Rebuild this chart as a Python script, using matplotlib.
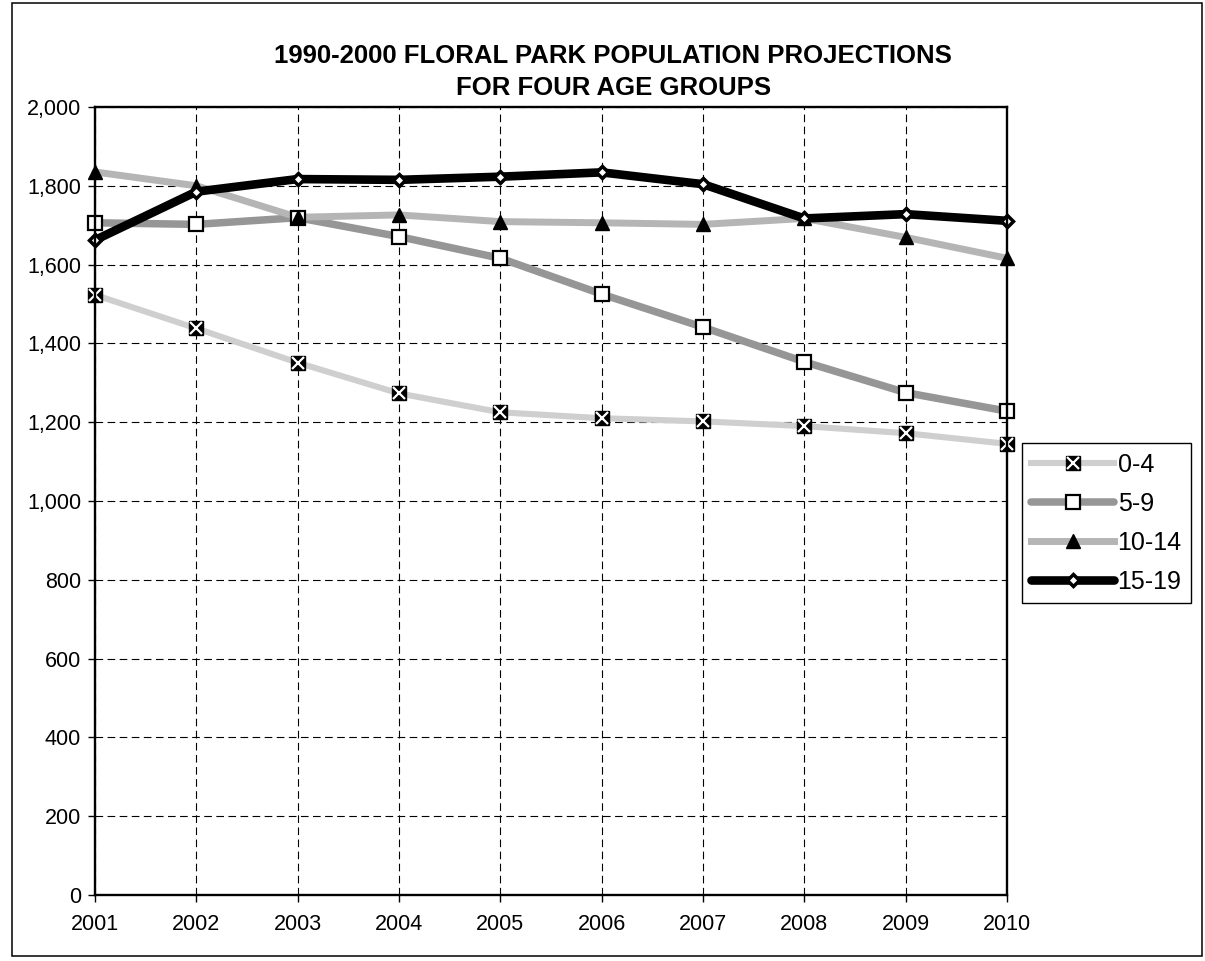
import matplotlib
matplotlib.use('Agg')
import matplotlib.pyplot as plt
from matplotlib.lines import Line2D
from matplotlib.patches import Rectangle
from matplotlib.ticker import FuncFormatter

plt.rcParams['font.family'] = ['Liberation Sans', 'DejaVu Sans']
plt.rcParams['lines.scale_dashes'] = False

years = [2001, 2002, 2003, 2004, 2005, 2006, 2007, 2008, 2009, 2010]
age_0_4 = [1523, 1438, 1351, 1273, 1225, 1210, 1202, 1190, 1172, 1145]
age_5_9 = [1706, 1702, 1719, 1671, 1616, 1525, 1441, 1353, 1275, 1228]
age_10_14 = [1835, 1800, 1720, 1726, 1709, 1706, 1702, 1717, 1669, 1616]
age_15_19 = [1662, 1785, 1817, 1815, 1823, 1834, 1804, 1717, 1728, 1711]
labels = ['0-4', '5-9', '10-14', '15-19']

fig = plt.figure(figsize=(12.05, 9.61), dpi=100)
ax = fig.add_axes([0.0788, 0.0687, 0.7569, 0.82])

# line styles: (color, width)
styles = [('#cfcfcf', 4.4), ('#969696', 5.4), ('#b5b5b5', 5.0), ('black', 6.2)]
series = [age_0_4, age_5_9, age_10_14, age_15_19]

# all lines first, markers on top
for vals, (c, lw) in zip(series, styles):
    ax.plot(years, vals, color=c, lw=lw, solid_capstyle='round',
            solid_joinstyle='round', zorder=3, clip_on=False)

ax.plot(years, age_0_4, ls='none', marker='s', ms=10, mfc='black', mec='black',
        zorder=4, clip_on=False)
ax.plot(years, age_0_4, ls='none', marker='x', ms=9, mec='white', mew=1.6,
        zorder=4.1, clip_on=False)
ax.plot(years, age_5_9, ls='none', marker='s', ms=9.5, mfc='white', mec='black',
        mew=1.6, zorder=5, clip_on=False)
ax.plot(years, age_10_14, ls='none', marker='^', ms=10.5, mfc='black', mec='black',
        zorder=6, clip_on=False)
ax.plot(years, age_15_19, ls='none', marker='D', ms=6.5, mfc='white', mec='black',
        mew=2.5, zorder=7, clip_on=False)

ax.set_xlim(2001, 2010)
ax.set_ylim(0, 2000)
ax.set_xticks(years)
ax.set_yticks(range(0, 2001, 200))
ax.yaxis.set_major_formatter(FuncFormatter(lambda v, p: f'{v:,.0f}'))
ax.grid(True, color='black', lw=0.8, ls=(0, (5.5, 3.2)), zorder=1)
for s in ax.spines.values():
    s.set_linewidth(1.7)
    s.set_zorder(8)
ax.tick_params(direction='out', length=5, width=1, labelsize=15.5)
ax.tick_params(axis='x', pad=9)
ax.tick_params(axis='y', pad=5)

# legend built from proxy handles
h0 = (Line2D([], [], color=styles[0][0], lw=styles[0][1], marker='s', ms=10,
             mfc='black', mec='black'),
      Line2D([], [], ls='none', marker='x', ms=9, mec='white', mew=1.6))
h1 = Line2D([], [], color=styles[1][0], lw=styles[1][1], solid_capstyle='round',
            marker='s', ms=9.5, mfc='white', mec='black', mew=1.6)
h2 = Line2D([], [], color=styles[2][0], lw=styles[2][1], marker='^', ms=10.5,
            mfc='black', mec='black')
h3 = Line2D([], [], color=styles[3][0], lw=styles[3][1], solid_capstyle='round',
            marker='D', ms=6.5, mfc='white', mec='black', mew=2.5)
leg = fig.legend([h0, h1, h2, h3], labels, loc='upper left',
                 bbox_to_anchor=(0.848, 0.539), fontsize=18, handlelength=3.3,
                 handletextpad=0.15, labelspacing=0.6, borderpad=0.38,
                 borderaxespad=0, fancybox=False, framealpha=1,
                 edgecolor='black', numpoints=1)
leg.get_frame().set_linewidth(1.0)

fig.text(0.509, 0.925, '1990-2000 FLORAL PARK POPULATION PROJECTIONS\nFOR FOUR AGE GROUPS',
         ha='center', va='center', fontsize=18.5, fontweight='bold', linespacing=1.42)

fig.patches.append(Rectangle((0.01, 0.0052), 0.9876, 0.9917, transform=fig.transFigure,
                             fill=False, edgecolor='black', lw=1.1))

plt.savefig('out.png', dpi=100)
